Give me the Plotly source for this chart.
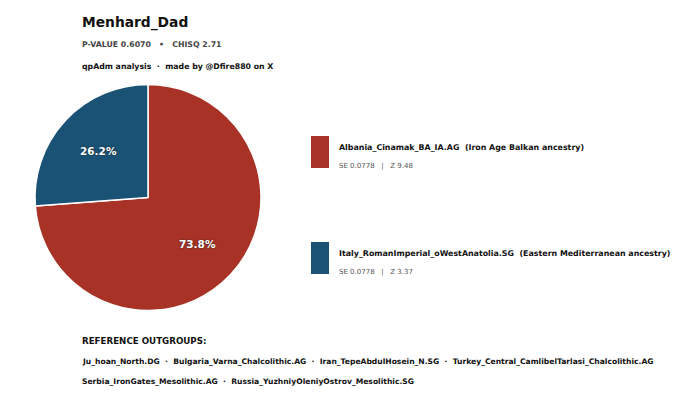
import math
import plotly.graph_objects as go

# data
sample = "Menhard_Dad"
p_value = "0.6070"
chisq = "2.71"
sources = ["Albania_Cinamak_BA_IA.AG", "Italy_RomanImperial_oWestAnatolia.SG"]
descriptions = ["Iron Age Balkan ancestry", "Eastern Mediterranean ancestry"]
weights = [73.8, 26.2]
se_vals = ["0.0778", "0.0778"]
z_vals = ["9.48", "3.37"]
outgroups_line1 = ["Ju_hoan_North.DG", "Bulgaria_Varna_Chalcolithic.AG",
                   "Iran_TepeAbdulHosein_N.SG", "Turkey_Central_CamlibelTarlasi_Chalcolithic.AG"]
outgroups_line2 = ["Serbia_IronGates_Mesolithic.AG", "Russia_YuzhniyOleniyOstrov_Mesolithic.SG"]
colors = ["#A93226", "#1A5276"]

# page has an 8px body margin, so shift everything up/left by that
OFF = 8
W, H = 680 - OFF, 412 - OFF
FONT = "DejaVu Sans"
SP = "&nbsp;"

# pie geometry (window pixels)
CX, CY, R = 148, 197.5, 113


def px(x):
    return (x - OFF) / W


def py(y):
    return 1 - (y - OFF) / H


fig = go.Figure()

fig.add_trace(go.Pie(
    labels=sources,
    values=weights,
    marker=dict(colors=colors, line=dict(color="white", width=1.5)),
    sort=False,
    direction="clockwise",
    rotation=0,
    textinfo="none",
    domain=dict(x=[px(CX - R), px(CX + R)], y=[py(CY + R), py(CY - R)]),
    showlegend=False,
    hoverinfo="label+percent",
))

ann = []
shapes = []


def txt(x, y, s, size, color="#111", bold=True):
    ann.append(dict(x=px(x - 2), y=py(y), xref="paper", yref="paper", text=s,
                    showarrow=False, xanchor="left", yanchor="middle",
                    font=dict(family=FONT, size=size, color=color,
                              weight="bold" if bold else "normal")))


# percent labels at 60% of the radius, matplotlib style
total = sum(weights)
cum = 0
for w in weights:
    mid = (cum + w / 2) / total * 2 * math.pi
    cum += w
    lx = CX + 0.6 * R * math.sin(mid)
    ly = CY - 0.6 * R * math.cos(mid)
    ann.append(dict(x=px(lx), y=py(ly), xref="paper", yref="paper",
                    text=f"{w / total * 100:.1f}%", showarrow=False,
                    xanchor="center", yanchor="middle",
                    font=dict(family=FONT, size=10.5, color="white", weight="bold",
                              shadow="0px 0px 2px #222")))

txt(82, 22, sample, 13.8, "#111")
txt(82, 45, f"P-VALUE {p_value}{SP*3}•{SP*3}CHISQ {chisq}", 7.8, "#444")
txt(82, 66, f"qpAdm analysis{SP*2}·{SP*2}made by @Dfire880 on X", 7.8, "#111")

legend_y = [152, 258]
for i, (src, desc) in enumerate(zip(sources, descriptions)):
    yc = legend_y[i]
    shapes.append(dict(type="rect", xref="paper", yref="paper",
                       x0=px(311), x1=px(329), y0=py(yc + 16), y1=py(yc - 16),
                       fillcolor=colors[i], line=dict(width=0)))
    txt(339, yc - 5, f"{src}{SP*2}({desc})", 7.9, "#111")
    txt(339, yc + 14, f"SE {se_vals[i]}{SP*3}|{SP*3}Z {z_vals[i]}", 7, "#555", bold=False)

txt(82, 341, "REFERENCE OUTGROUPS:", 8.7, "#111")
txt(82, 361, f"{SP*2}·{SP*2}".join(outgroups_line1), 7.6, "#111")
txt(82, 381, f"{SP*2}·{SP*2}".join(outgroups_line2), 7.6, "#111")

fig.update_layout(
    width=W, height=H,
    margin=dict(l=0, r=0, t=0, b=0),
    paper_bgcolor="white",
    plot_bgcolor="white",
    annotations=ann,
    shapes=shapes,
)

fig.write_html("out.html")
